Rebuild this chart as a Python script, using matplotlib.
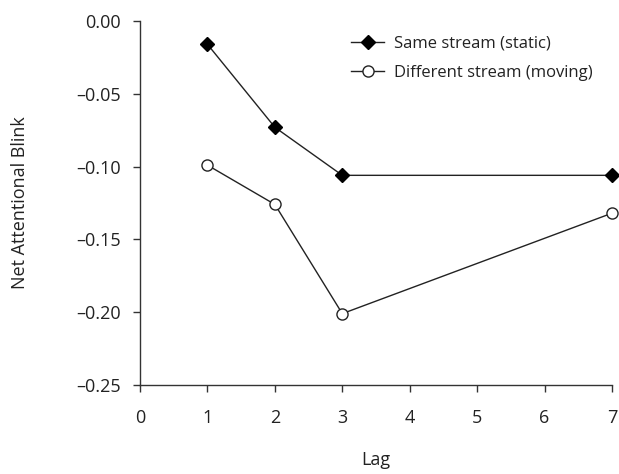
import numpy as np
import matplotlib
matplotlib.use("Agg")
import matplotlib.pyplot as plt

plt.rcParams['font.family'] = ['Open Sans', 'DejaVu Sans']

lags = [1, 2, 3, 7]
same_stream = [-0.016, -0.073, -0.106, -0.106]
diff_stream = [-0.099, -0.126, -0.201, -0.132]
xticks = [0, 1, 2, 3, 4, 5, 6, 7]
yticks = [0.00, -0.05, -0.10, -0.15, -0.20, -0.25]

fig = plt.figure(figsize=(6.19, 4.74), dpi=100)
ax = fig.add_axes([0.2262, 0.1878, 0.7625, 0.7679])

ax.plot(lags, same_stream, color='#222222', lw=1.0, marker='D', markersize=7.5,
        markerfacecolor='black', markeredgecolor='black', label='Same stream (static)',
        clip_on=False, zorder=3)
ax.plot(lags, diff_stream, color='#222222', lw=1.0, marker='o', markersize=8,
        markerfacecolor='white', markeredgecolor='#222222', markeredgewidth=1.0,
        label='Different stream (moving)', clip_on=False, zorder=3)

ax.set_xlim(0, 7)
ax.set_ylim(-0.25, 0.0)
ax.set_xticks(xticks)
ax.set_yticks(yticks)
ax.set_yticklabels(['%.2f' % v if v == 0 else '\u2013%.2f' % abs(v) for v in yticks])

for s in ['top', 'right']:
    ax.spines[s].set_visible(False)
for s in ['left', 'bottom']:
    ax.spines[s].set_color('#333333')
    ax.spines[s].set_linewidth(1.0)
ax.tick_params(direction='out', length=5, width=1.0, color='#333333',
               labelsize=13, labelcolor='#222222')
ax.tick_params(axis='x', pad=12)
ax.tick_params(axis='y', pad=9)

ax.set_xlabel('Lag', fontsize=13, color='#222222')
ax.set_ylabel('Net Attentional Blink', fontsize=13, color='#222222')
ax.xaxis.set_label_coords(0.5, -0.206)
ax.yaxis.set_label_coords(-0.254, 0.5)
ax.xaxis.label.set_va('center')
ax.yaxis.label.set_va('center')

leg = ax.legend(loc='upper left', bbox_to_anchor=(0.415, 1.0), frameon=False,
                fontsize=12, handlelength=2.0, handletextpad=0.6, labelspacing=0.8)
for t in leg.get_texts():
    t.set_color('#222222')

fig.savefig('out.png', dpi=100)
